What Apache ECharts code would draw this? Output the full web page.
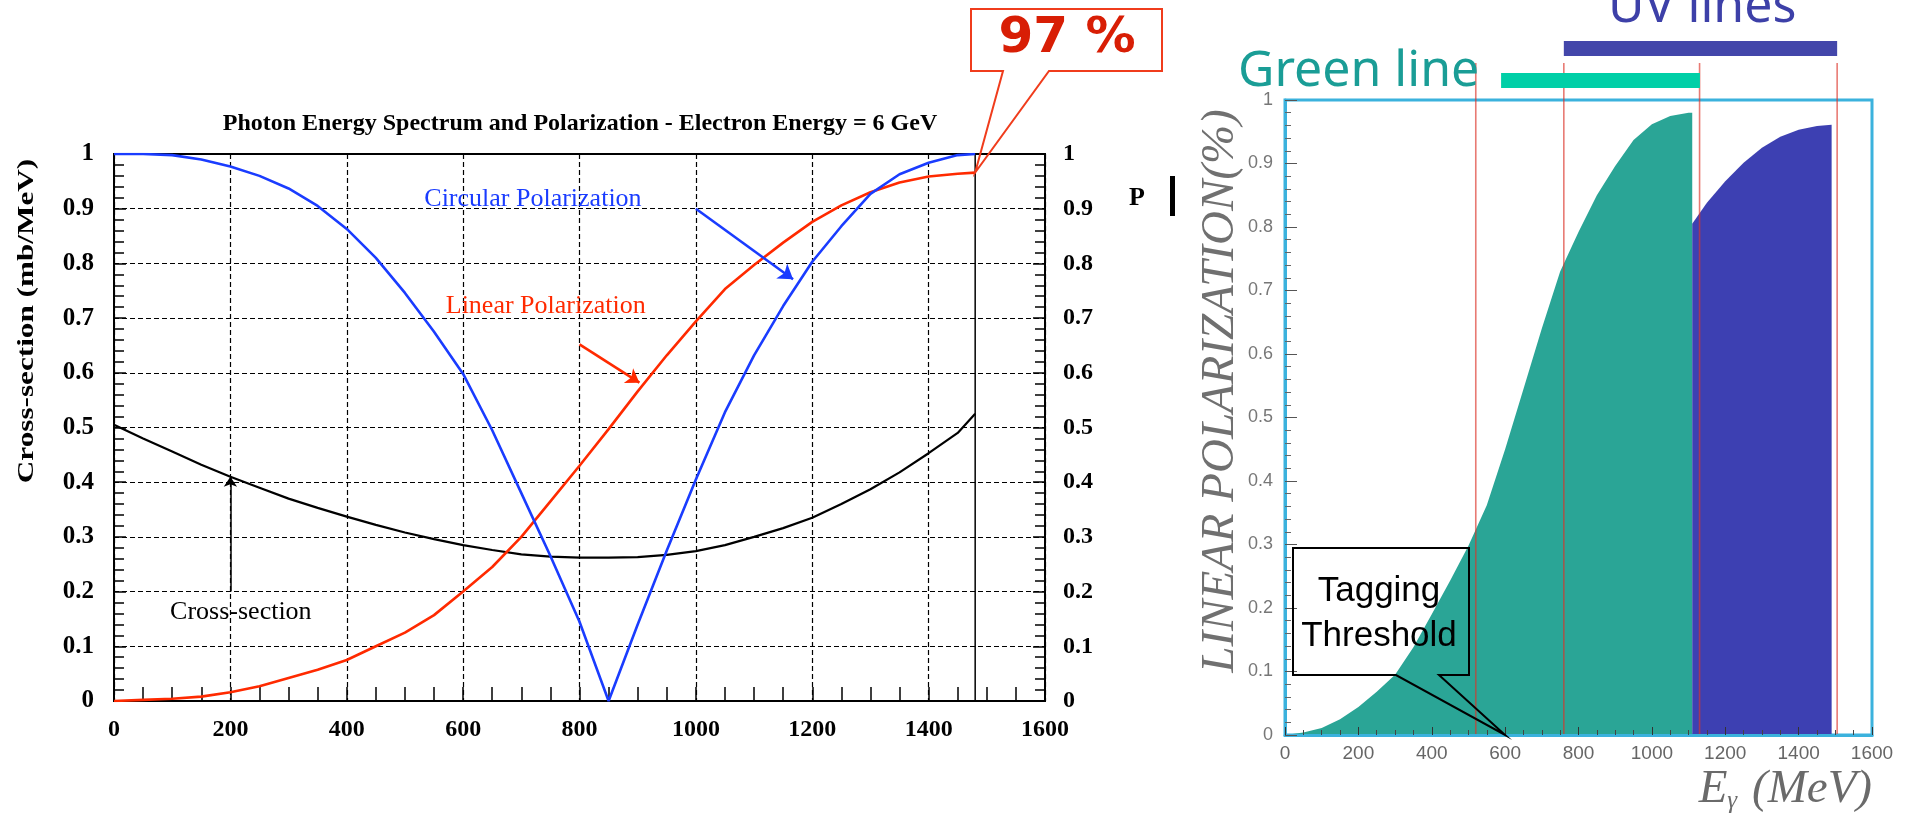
<!DOCTYPE html>
<html>
<head>
<meta charset="utf-8">
<script src="https://cdn.jsdelivr.net/npm/echarts@6/dist/echarts.min.js"></script>
<style>
html,body{margin:0;padding:0;background:#fff;}
#c{width:1914px;height:816px;}
</style>
</head>
<body>
<div id="c"></div>
<script>
// ---------------- DATA ----------------
// Left panel: photon energy (MeV)
const leftEnergy = [0,50,100,150,200,250,300,350,400,450,500,550,600,650,700,750,800,850,900,950,1000,1050,1100,1150,1200,1250,1300,1350,1400,1450,1480];
const circPol    = [1,1,0.998,0.99,0.977,0.96,0.937,0.905,0.863,0.81,0.746,0.675,0.598,0.495,0.38,0.265,0.145,0,0.14,0.275,0.405,0.528,0.632,0.722,0.803,0.868,0.927,0.963,0.984,0.998,1];
const linPol     = [0,0.002,0.004,0.008,0.016,0.027,0.042,0.057,0.075,0.1,0.125,0.157,0.2,0.245,0.3,0.365,0.43,0.497,0.566,0.632,0.694,0.753,0.797,0.838,0.876,0.906,0.93,0.948,0.959,0.964,0.966];
const crossSect  = [0.505,0.48,0.456,0.432,0.41,0.39,0.37,0.353,0.337,0.322,0.308,0.296,0.285,0.276,0.268,0.264,0.262,0.262,0.263,0.267,0.274,0.285,0.3,0.316,0.335,0.36,0.387,0.418,0.453,0.49,0.525];
const maxEnergy  = 1480;
const leftTitle  = 'Photon Energy Spectrum and Polarization - Electron Energy = 6 GeV';
const leftYName  = 'Cross-section (mb/MeV)';
// annotations (data units of the left panel)
const circArrow  = [[1000,0.9],[1167,0.771]];
const linArrow   = [[800,0.652],[903,0.582]];
const xsecArrow  = [[200,0.2],[200,0.41]];
const circLabel  = {text:'Circular Polarization', at:[720,0.918]};
const linLabel   = {text:'Linear Polarization',   at:[742,0.722]};
const xsecLabel  = {text:'Cross-section',         at:[218,0.162]};
const peakLabel  = '97 %';

// Right panel: linear polarization per laser line
const greenEnergy = [0,50,100,150,200,250,300,350,400,450,500,550,600,650,700,750,800,850,900,950,1000,1050,1100,1110];
const greenPol    = [0,0.004,0.011,0.025,0.044,0.068,0.095,0.138,0.19,0.243,0.298,0.362,0.45,0.545,0.64,0.73,0.792,0.85,0.896,0.937,0.962,0.975,0.98,0.98];
const uvEnergy    = [1110,1150,1200,1250,1300,1350,1400,1450,1490];
const uvPol       = [0.805,0.838,0.872,0.901,0.925,0.942,0.953,0.959,0.961];
const thresholdLines = [520,760,1130,1505];
const greenLineRange = [589,1131];
const uvLineRange    = [760,1505];
const taggingThreshold = 600;
const rightYName = 'LINEAR POLARIZATION(%)';

// ---------------- CHART ----------------
const zip = (xs, ys) => xs.map((x, i) => [x, ys[i]]);
const chart = echarts.init(document.getElementById('c'), null, {renderer:'canvas', width:1914, height:816});

const SERIF = '"Liberation Serif", "DejaVu Serif", serif';
const SANS = '"Liberation Sans", Arial, sans-serif';
const BLUE = '#1a3cff', RED = '#ff2a00';
const plain = v => String(Math.round(v * 1000) / 1000);

const arrowLine = (pair, color, width, size) => ({
  silent: true, animation: false,
  symbol: ['none', 'arrow'], symbolSize: size,
  label: {show: false},
  lineStyle: {color: color, width: width, type: 'solid'},
  data: [[{coord: pair[0], symbol: 'none'}, {coord: pair[1], symbol: 'arrow', symbolSize: size}]]
});

const dashed = {color: '#000', width: 1.2, type: [5, 3]};

const option = {
  animation: false,
  backgroundColor: '#fff',
  textStyle: {fontFamily: SERIF},
  title: {
    text: leftTitle, left: 580, top: 112, textAlign: 'center', padding: 0,
    textStyle: {fontFamily: SERIF, fontWeight: 'bold', fontSize: 24, color: '#000'}
  },
  grid: [
    {left: 114, top: 154, width: 931, height: 547, show: true, borderColor: '#000', borderWidth: 2, containLabel: false, outerBoundsMode: 'none'},
    {left: 1285, top: 100, width: 587, height: 635, show: true, borderColor: '#3bb2dd', borderWidth: 3, containLabel: false, outerBoundsMode: 'none'},
    {left: 1285, top: 63, width: 587, height: 672, show: false, containLabel: false, outerBoundsMode: 'none'}
  ],
  xAxis: [
    {gridIndex: 0, type: 'value', min: 0, max: 1600, interval: 200,
     axisLine: {show: true, onZero: false, lineStyle: {color: '#000', width: 2}},
     axisTick: {show: true, inside: true, length: 14, lineStyle: {color: '#000', width: 1.5}},
     minorTick: {show: true, splitNumber: 4, length: 14, lineStyle: {color: '#000', width: 1.5}},
     axisLabel: {show: true, margin: 17, color: '#000', fontFamily: SERIF, fontWeight: 'bold', fontSize: 24, formatter: plain, showMinLabel: true, showMaxLabel: true, hideOverlap: false},
     splitLine: {show: true, lineStyle: dashed},
     minorSplitLine: {show: false}},
    {gridIndex: 1, type: 'value', min: 0, max: 1600, interval: 200, z: 10,
     axisLine: {show: true, onZero: false, lineStyle: {color: '#3bb2dd', width: 3}},
     axisTick: {show: true, inside: true, length: 8, lineStyle: {color: '#333', width: 1}},
     minorTick: {show: true, splitNumber: 4, length: 5, lineStyle: {color: '#444', width: 1}},
     axisLabel: {show: true, margin: 9, color: '#666', fontFamily: SANS, fontSize: 19, formatter: plain, showMinLabel: true, showMaxLabel: true, hideOverlap: false},
     splitLine: {show: false}},
    {gridIndex: 2, type: 'value', min: 0, max: 1600, show: false}
  ],
  yAxis: [
    {gridIndex: 0, type: 'value', min: 0, max: 1, interval: 0.1, position: 'left',
     axisLine: {show: true, onZero: false, lineStyle: {color: '#000', width: 2}},
     axisTick: {show: true, inside: true, length: 12, lineStyle: {color: '#000', width: 1.5}},
     minorTick: {show: true, splitNumber: 5, length: 10, lineStyle: {color: '#000', width: 1.5}},
     axisLabel: {show: true, margin: 20, color: '#000', fontFamily: SERIF, fontWeight: 'bold', fontSize: 25, formatter: plain, showMinLabel: true, showMaxLabel: true, hideOverlap: false},
     splitLine: {show: true, lineStyle: dashed}},
    {gridIndex: 0, type: 'value', min: 0, max: 1, interval: 0.1, position: 'right',
     axisLine: {show: true, onZero: false, lineStyle: {color: '#000', width: 2}},
     axisTick: {show: true, inside: true, length: 12, lineStyle: {color: '#000', width: 1.5}},
     minorTick: {show: true, splitNumber: 5, length: 10, lineStyle: {color: '#000', width: 1.5}},
     axisLabel: {show: true, margin: 18, color: '#000', fontFamily: SERIF, fontWeight: 'bold', fontSize: 24, formatter: plain, showMinLabel: true, showMaxLabel: true, hideOverlap: false},
     splitLine: {show: false}},
    {gridIndex: 1, type: 'value', min: 0, max: 1, interval: 0.1, z: 10,
     axisLine: {show: true, onZero: false, lineStyle: {color: '#3bb2dd', width: 3}},
     axisTick: {show: true, inside: true, length: 12, lineStyle: {color: '#555', width: 1}},
     minorTick: {show: true, splitNumber: 5, length: 6, lineStyle: {color: '#666', width: 1}},
     axisLabel: {show: true, margin: 12, color: '#777', fontFamily: SANS, fontSize: 18, formatter: plain, showMinLabel: true, showMaxLabel: true, hideOverlap: false},
     splitLine: {show: false}},
    {gridIndex: 2, type: 'value', min: 0, max: 1, show: false}
  ],
  series: [
    {name: 'Cross-section', type: 'line', xAxisIndex: 0, yAxisIndex: 0, data: zip(leftEnergy, crossSect),
     symbol: 'none', showSymbol: false, lineStyle: {color: '#000', width: 2.2}, itemStyle: {color: '#000'}, z: 3,
     markLine: arrowLine(xsecArrow, '#000', 1.5, 10)},
    {name: 'Linear Polarization', type: 'line', xAxisIndex: 0, yAxisIndex: 0, data: zip(leftEnergy, linPol),
     symbol: 'none', showSymbol: false, lineStyle: {color: RED, width: 2.6}, itemStyle: {color: RED}, z: 4,
     markLine: arrowLine(linArrow, RED, 2.6, 13)},
    {name: 'Circular Polarization', type: 'line', xAxisIndex: 0, yAxisIndex: 0, data: zip(leftEnergy, circPol),
     symbol: 'none', showSymbol: false, lineStyle: {color: BLUE, width: 2.6}, itemStyle: {color: BLUE}, z: 5,
     markLine: arrowLine(circArrow, BLUE, 2.6, 14)},
    {name: 'Max energy', type: 'line', xAxisIndex: 0, yAxisIndex: 0, data: [[maxEnergy, 0], [maxEnergy, 1]],
     symbol: 'none', showSymbol: false, lineStyle: {color: '#000', width: 1.5}, z: 2},
    {name: 'Green line', type: 'line', xAxisIndex: 1, yAxisIndex: 2, data: zip(greenEnergy, greenPol),
     symbol: 'none', showSymbol: false, lineStyle: {width: 0}, areaStyle: {color: '#2aa596', opacity: 1}, z: 2},
    {name: 'UV lines', type: 'line', xAxisIndex: 1, yAxisIndex: 2, data: zip(uvEnergy, uvPol),
     symbol: 'none', showSymbol: false, lineStyle: {width: 0}, areaStyle: {color: '#3d40b2', opacity: 1}, z: 2}
  ].concat(thresholdLines.map(x => ({
     name: 'threshold ' + x, type: 'line', xAxisIndex: 2, yAxisIndex: 3, data: [[x, 0], [x, 1]],
     symbol: 'none', showSymbol: false, lineStyle: {color: 'rgba(220,50,40,0.65)', width: 1.6}, z: 6
  })))
};

chart.setOption(option);

const pL = (x, y) => chart.convertToPixel({gridIndex: 0}, [x, y]);
const pR = (x, y) => chart.convertToPixel({gridIndex: 1}, [x, y]);

const tip97 = pL(maxEnergy, linPol[linPol.length - 1]);
const tipTag = pR(taggingThreshold, 0);
const g1 = pR(greenLineRange[0], 0)[0], g2 = pR(greenLineRange[1], 0)[0];
const u1 = pR(uvLineRange[0], 0)[0], u2 = pR(uvLineRange[1], 0)[0];
const cP = pL(circLabel.at[0], circLabel.at[1]);
const lP = pL(linLabel.at[0], linLabel.at[1]);
const xP = pL(xsecLabel.at[0], xsecLabel.at[1]);

const txt = (x, y, text, font, fill, extra, align) => Object.assign({
  type: 'text', x: x, y: y, z: 100,
  style: {text: text, font: font, fill: fill, align: align || 'center', verticalAlign: 'middle', textAlign: align || 'center', textVerticalAlign: 'middle', lineHeight: 45}
}, extra || {});

chart.setOption({
  graphic: [
    // left y axis name
    txt(27, 321, leftYName, 'bold 24px ' + SERIF, '#000', {rotation: Math.PI / 2, scaleX: 1.3}),
    // curve labels
    txt(cP[0], cP[1], circLabel.text, '26px ' + SERIF, BLUE),
    txt(lP[0], lP[1], linLabel.text, '26px ' + SERIF, RED),
    txt(xP[0], xP[1], xsecLabel.text, '26px ' + SERIF, '#000'),
    // 97 % callout
    {type: 'polygon', z: 100, shape: {points: [[971, 9], [1162, 9], [1162, 71], [1049, 71], tip97, [1003, 71], [971, 71]]},
     style: {fill: 'none', stroke: '#f03c1c', lineWidth: 2}},
    txt(1067, 39, peakLabel, 'bold 50px "DejaVu Sans"', '#d81e05'),
    // P marker
    txt(1137, 198, 'P', 'bold 26px ' + SERIF, '#000'),
    {type: 'rect', z: 100, shape: {x: 1170, y: 176, width: 5, height: 40}, style: {fill: '#000'}},
    // laser line bars and labels
    {type: 'rect', z: 100, shape: {x: u1, y: 41, width: u2 - u1, height: 15}, style: {fill: '#4346aa'}},
    {type: 'rect', z: 100, shape: {x: g1, y: 73, width: g2 - g1, height: 15}, style: {fill: '#00cfa7'}},
    txt(1238, 72, 'Green line', '50px "Noto Sans"', '#1a9d96', null, 'left'),
    txt(1608, 8, 'UV lines', '50px "Noto Sans"', '#3d40a8', null, 'left'),
    // right y axis name
    txt(1221, 391, rightYName, 'italic 47px ' + SERIF, '#707070', {rotation: Math.PI / 2}),
    // right x axis name
    {type: 'text', x: 1872, y: 790, z: 100,
     style: {text: '{e|E}{g|γ}{e| (MeV)}', align: 'right', verticalAlign: 'middle', textAlign: 'right', textVerticalAlign: 'middle',
       rich: {e: {fontSize: 47, fontStyle: 'italic', fontFamily: SERIF, fill: '#6a6a6a'},
              g: {fontSize: 25, fontStyle: 'italic', fontFamily: SERIF, fill: '#6a6a6a', verticalAlign: 'bottom', padding: [0, 3, 0, 0]}}}},
    // Tagging threshold callout
    {type: 'polygon', z: 100, shape: {points: [[1293, 548], [1469, 548], [1469, 675], [1439, 675], tipTag, [1396, 675], [1293, 675]]},
     style: {fill: 'none', stroke: '#000', lineWidth: 2}},
    txt(1379, 614, 'Tagging\nThreshold', '35px ' + SANS, '#000')
  ]
});
</script>
</body>
</html>
